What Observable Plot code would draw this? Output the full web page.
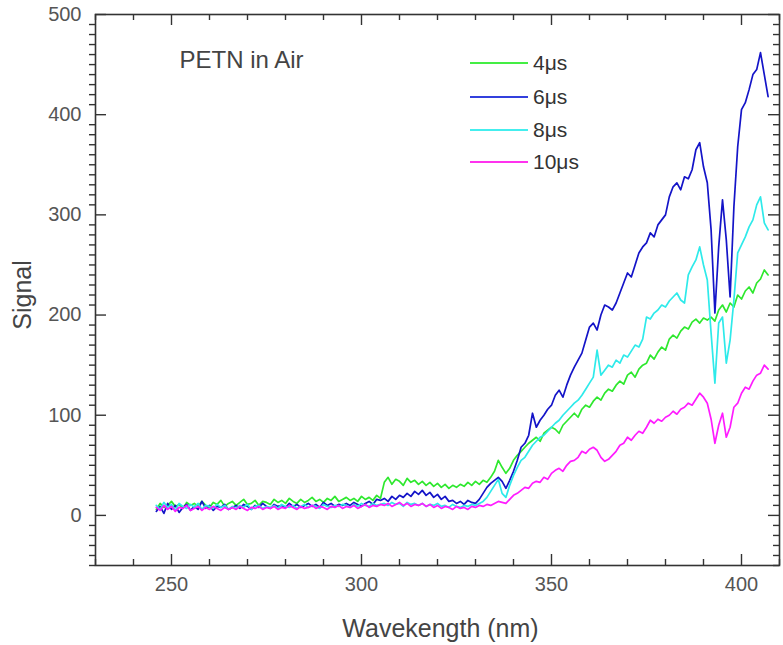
<!DOCTYPE html>
<html><head><meta charset="utf-8">
<script src="https://cdn.jsdelivr.net/npm/d3@7"></script>
<script src="https://cdn.jsdelivr.net/npm/@observablehq/plot@0.6"></script>
<style>
body{margin:0;background:#fff;font-family:"Liberation Sans",Arial,sans-serif;}
#wrap{position:relative;width:783px;height:645px;overflow:hidden;}
.leg{position:absolute;display:flex;align-items:center;font-size:21px;color:#333;height:24px;}
.leg svg{margin-right:5px;}
#ylab{position:absolute;left:22px;top:295px;transform:translate(-50%,-50%) rotate(-90deg);font-size:25px;color:#444;white-space:nowrap;line-height:1;}
</style></head><body><div id="wrap"></div>
<script>
const wavelength = [
246,247,248,249,250,251,252,253,254,255,
256,257,258,259,260,261,262,263,264,265,
266,267,268,269,270,271,272,273,274,275,
276,277,278,279,280,281,282,283,284,285,
286,287,288,289,290,291,292,293,294,295,
296,297,298,299,300,301,302,303,304,305,
306,307,308,309,310,311,312,313,314,315,
316,317,318,319,320,321,322,323,324,325,
326,327,328,329,330,331,332,333,334,335,
336,337,338,339,340,341,342,343,344,345,
346,347,348,349,350,351,352,353,354,355,
356,357,358,359,360,361,362,363,364,365,
366,367,368,369,370,371,372,373,374,375,
376,377,378,379,380,381,382,383,384,385,
386,387,388,389,390,391,392,393,394,395,
396,397,398,399,400,401,402,403,404,405,
406,407];

const seriesNames = ["4μs", "6μs", "8μs", "10μs"];
const seriesColors = ["#2ee82e", "#1414c8", "#2eeaea", "#ff1cff"];
const legendColors = ["#44ee44", "#3340dd", "#44eeee", "#ff33ee"];

const signal4us = [
6,12,8,10,14,9,11,7,13,10,
12,9,14,10,8,13,11,15,9,12,
14,10,13,16,11,12,15,10,14,13,
11,16,13,15,12,17,14,12,16,13,
15,18,14,16,13,17,15,19,14,16,
18,15,17,14,19,16,18,15,20,17,
33,38,31,36,34,30,37,33,35,31,
34,30,33,29,32,28,31,27,30,28,
31,29,33,30,34,31,35,33,38,44,
55,48,42,47,55,60,64,68,72,75,
78,74,82,85,88,86,82,90,94,98,
102,98,106,110,108,114,118,115,122,126,
124,130,134,131,140,143,138,146,150,152,
160,156,163,168,165,176,180,177,184,188,
186,193,196,192,197,195,198,194,205,210,
203,212,208,220,216,224,228,222,232,236,
245,240];

const signal6us = [
4,9,2,12,6,10,3,8,11,5,
9,6,14,7,10,5,9,8,11,6,
8,10,7,11,9,6,10,8,12,9,
7,11,9,10,8,12,9,11,8,10,
12,9,11,8,13,10,12,9,11,10,
12,10,13,11,9,12,14,11,16,15,
17,14,19,16,20,18,22,19,24,21,
25,20,23,18,21,16,19,14,15,12,
14,11,15,13,12,16,22,28,32,35,
38,34,27,35,44,55,68,72,80,102,
88,95,100,106,110,120,125,118,130,140,
148,155,162,175,188,192,185,200,210,208,
205,212,222,232,242,238,250,262,268,272,
282,278,290,295,300,318,328,332,325,338,
336,345,365,372,348,332,285,202,268,315,
275,218,308,368,405,412,425,440,445,462,
440,418];

const signal8us = [
10,6,13,8,11,5,12,9,7,11,
8,12,6,10,9,7,11,8,10,6,
9,7,10,8,11,6,9,10,7,9,
8,10,7,11,9,8,10,7,9,11,
8,10,9,7,11,9,8,10,9,11,
10,8,11,9,12,10,9,12,10,11,
12,10,13,11,12,9,13,11,12,10,
12,9,11,10,12,9,10,8,11,9,
8,10,9,11,10,12,14,18,24,30,
36,22,18,30,40,48,55,58,64,70,
74,78,80,84,88,92,95,100,104,108,
112,115,120,126,132,138,165,140,145,150,
148,155,152,160,158,164,170,168,176,198,
196,202,205,210,208,214,218,222,215,212,
240,248,255,268,250,235,182,132,192,198,
152,175,215,262,270,278,288,295,310,318,
292,285];

const signal10us = [
8,5,10,6,9,4,8,7,10,5,
7,9,5,8,6,9,7,5,8,6,
8,6,9,7,5,8,7,9,6,8,
7,9,6,8,7,10,8,6,9,7,
8,10,7,9,8,6,9,8,10,7,
9,8,10,7,9,11,8,10,9,11,
10,12,9,11,13,10,12,9,11,10,
12,9,11,8,10,7,9,8,6,9,
7,8,6,9,8,10,9,11,10,12,
14,13,12,16,20,22,25,28,27,32,
34,33,38,36,42,45,47,44,50,54,
55,58,64,62,66,68,65,58,54,56,
60,64,70,72,78,75,80,84,82,88,
95,92,96,94,98,100,104,101,106,108,
112,110,116,122,118,112,96,72,90,102,
78,88,108,112,122,128,126,134,140,142,
150,146];

const xTickValues = [250, 300, 350, 400];
const yTickValues = [0, 100, 200, 300, 400, 500];
const titleText = "PETN in Air";
const xLabel = "Wavekength (nm)";
const yLabel = "Signal";

const allSeries = [signal4us, signal6us, signal8us, signal10us];
const rows = [];
allSeries.forEach((vals, si) => vals.forEach((v, i) => rows.push({w: wavelength[i], v, s: seriesNames[si]})));

const xMinor = d3.range(230, 411, 10).filter(d => !xTickValues.includes(d));
const yMinor = d3.range(-50, 501, 10).filter(d => !yTickValues.includes(d));

const WIDTH = 783, HEIGHT = 645, ML = 95, MR = 4, MT = 14, MB = 80;
const W = WIDTH - ML - MR, H = HEIGHT - MT - MB;
const axisColor = "#333";
const tk = {stroke: axisColor, strokeWidth: 1.4};

const chart = Plot.plot({
  width: WIDTH, height: HEIGHT,
  marginLeft: ML, marginRight: MR, marginTop: MT, marginBottom: MB,
  style: {fontFamily: '"Liberation Sans", Arial, sans-serif', background: "#fff"},
  x: {domain: [230, 410]},
  y: {domain: [-50, 500]},
  color: {domain: seriesNames, range: seriesColors},
  marks: [
    Plot.line(rows, {x: "w", y: "v", z: "s", stroke: "s", strokeWidth: 1.7}),
    Plot.frame({stroke: axisColor, strokeWidth: 1.6}),
    Plot.tickY(yTickValues, {y: d => d, insetRight: W - 11, ...tk}),
    Plot.tickY(yMinor, {y: d => d, insetLeft: -6, insetRight: W, ...tk}),
    Plot.tickY(yTickValues, {y: d => d, insetLeft: W - 11, ...tk}),
    Plot.tickY(yMinor, {y: d => d, insetLeft: W - 6, ...tk}),
    Plot.tickX(xTickValues, {x: d => d, insetTop: H - 11, ...tk}),
    Plot.tickX(xMinor, {x: d => d, insetTop: H - 6, ...tk}),
    Plot.tickX(xTickValues, {x: d => d, insetBottom: H - 11, ...tk}),
    Plot.tickX(xMinor, {x: d => d, insetBottom: H - 6, ...tk}),
    Plot.axisX({ticks: xTickValues, tickSize: 0, tickPadding: 11, fontSize: 20, color: "#555", label: null}),
    Plot.axisY({ticks: yTickValues, tickSize: 0, tickPadding: 14, fontSize: 20, color: "#555", label: null}),
    Plot.text([xLabel], {frameAnchor: "bottom", dx: 3, dy: 71, fontSize: 25, fill: "#444"}),
    Plot.text([titleText], {frameAnchor: "top-left", dx: 84, dy: 36, textAnchor: "start", fontSize: 24, fill: "#444"})
  ]
});

const wrap = document.getElementById("wrap");
wrap.appendChild(chart);

const yl = document.createElement("div");
yl.id = "ylab";
yl.textContent = yLabel;
wrap.appendChild(yl);

const legendTops = [63, 97, 130, 162];
seriesNames.forEach((name, i) => {
  const div = document.createElement("div");
  div.className = "leg";
  div.style.left = "470px";
  div.style.top = (legendTops[i] - 12) + "px";
  div.innerHTML = `<svg width="58" height="4"><line x1="0" x2="58" y1="2" y2="2" stroke="${legendColors[i]}" stroke-width="2"/></svg><span>${name}</span>`;
  wrap.appendChild(div);
});
</script>
</body></html>
